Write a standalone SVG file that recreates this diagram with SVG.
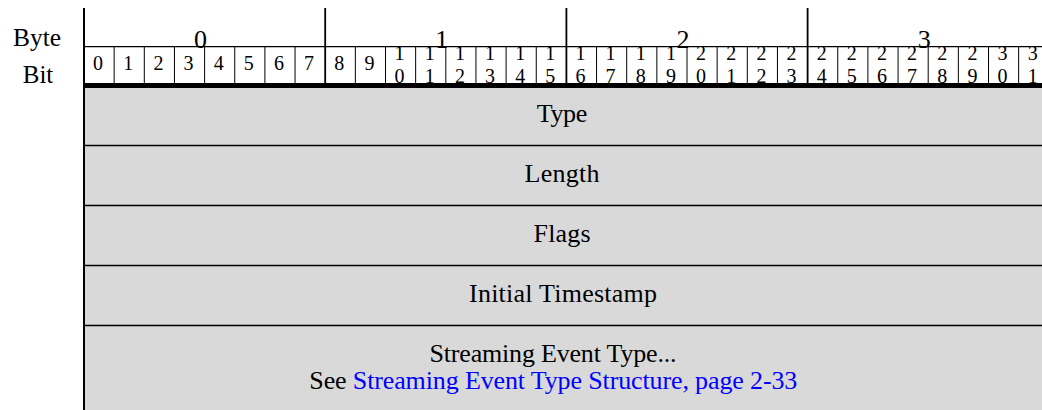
<svg xmlns="http://www.w3.org/2000/svg" width="1042" height="410" viewBox="0 0 1042 410">
<style>
text{font-family:"Liberation Serif","Times New Roman","DejaVu Serif",serif;fill:#000}
.lbl{font-size:25px;text-anchor:middle}
.byte{font-size:26px;text-anchor:middle}
.bit{font-size:20px;text-anchor:middle}
.row{font-size:26px;text-anchor:middle}
.link{fill:#0000ff}
.ln{stroke:#000;stroke-width:1.3;fill:none}
.bl{stroke:#000;stroke-width:1;fill:none}
.bb{stroke:#000;stroke-width:1.8;fill:none}
</style>
<rect width="1042" height="410" fill="#fff"/>
<g id="labels">
<text class="lbl" x="37" y="46" textLength="48" lengthAdjust="spacingAndGlyphs">Byte</text>
<text class="lbl" x="38" y="83">Bit</text>
</g>
<g id="fields">
<rect x="84" y="88" width="958" height="322" fill="#d9d9d9"/>
<g id="row-type"><text class="row" x="562" y="122" textLength="50.6">Type</text></g>
<g id="row-length"><text class="row" x="562" y="182" textLength="75">Length</text></g>
<g id="row-flags"><text class="row" x="562" y="242" textLength="57">Flags</text></g>
<g id="row-timestamp"><text class="row" x="563" y="302" textLength="188">Initial Timestamp</text></g>
<g id="row-streaming">
<text class="row" x="553" y="361.5" textLength="247">Streaming Event Type...</text>
<text class="row" x="553.3" y="388.5" textLength="488">See <tspan class="link">Streaming Event Type Structure, page 2-33</tspan></text>
</g>
<path class="ln" d="M84 145.5H1042M84 205.5H1042M84 265.5H1042M84 325.5H1042"/>
</g>
<g id="header">
<text class="byte" x="200.6" y="47.5">0</text>
<text class="byte" x="441.8" y="47.5">1</text>
<text class="byte" x="683" y="47.5">2</text>
<text class="byte" x="924.2" y="47.5">3</text>
<g id="bits">
<text class="bit" x="98" y="70">0</text>
<text class="bit" x="128.2" y="70">1</text>
<text class="bit" x="158.4" y="70">2</text>
<text class="bit" x="188.5" y="70">3</text>
<text class="bit" x="218.7" y="70">4</text>
<text class="bit" x="248.8" y="70">5</text>
<text class="bit" x="279" y="70">6</text>
<text class="bit" x="309.1" y="70">7</text>
<text class="bit" x="339.3" y="70">8</text>
<text class="bit" x="369.4" y="70">9</text>
<text class="bit"><tspan x="399.6" y="60">1</tspan><tspan x="399.6" y="82.7">0</tspan></text>
<text class="bit"><tspan x="429.7" y="60">1</tspan><tspan x="429.7" y="82.7">1</tspan></text>
<text class="bit"><tspan x="459.9" y="60">1</tspan><tspan x="459.9" y="82.7">2</tspan></text>
<text class="bit"><tspan x="490" y="60">1</tspan><tspan x="490" y="82.7">3</tspan></text>
<text class="bit"><tspan x="520.2" y="60">1</tspan><tspan x="520.2" y="82.7">4</tspan></text>
<text class="bit"><tspan x="550.3" y="60">1</tspan><tspan x="550.3" y="82.7">5</tspan></text>
<text class="bit"><tspan x="580.5" y="60">1</tspan><tspan x="580.5" y="82.7">6</tspan></text>
<text class="bit"><tspan x="610.6" y="60">1</tspan><tspan x="610.6" y="82.7">7</tspan></text>
<text class="bit"><tspan x="640.8" y="60">1</tspan><tspan x="640.8" y="82.7">8</tspan></text>
<text class="bit"><tspan x="670.9" y="60">1</tspan><tspan x="670.9" y="82.7">9</tspan></text>
<text class="bit"><tspan x="701.1" y="60">2</tspan><tspan x="701.1" y="82.7">0</tspan></text>
<text class="bit"><tspan x="731.2" y="60">2</tspan><tspan x="731.2" y="82.7">1</tspan></text>
<text class="bit"><tspan x="761.4" y="60">2</tspan><tspan x="761.4" y="82.7">2</tspan></text>
<text class="bit"><tspan x="791.5" y="60">2</tspan><tspan x="791.5" y="82.7">3</tspan></text>
<text class="bit"><tspan x="821.7" y="60">2</tspan><tspan x="821.7" y="82.7">4</tspan></text>
<text class="bit"><tspan x="851.8" y="60">2</tspan><tspan x="851.8" y="82.7">5</tspan></text>
<text class="bit"><tspan x="882" y="60">2</tspan><tspan x="882" y="82.7">6</tspan></text>
<text class="bit"><tspan x="912.1" y="60">2</tspan><tspan x="912.1" y="82.7">7</tspan></text>
<text class="bit"><tspan x="942.3" y="60">2</tspan><tspan x="942.3" y="82.7">8</tspan></text>
<text class="bit"><tspan x="972.4" y="60">2</tspan><tspan x="972.4" y="82.7">9</tspan></text>
<text class="bit"><tspan x="1002.6" y="60">3</tspan><tspan x="1002.6" y="82.7">0</tspan></text>
<text class="bit"><tspan x="1032.7" y="60">3</tspan><tspan x="1032.7" y="82.7">1</tspan></text>
</g>
<path class="bl" d="M114.15 46.7V83M144.3 46.7V83M174.45 46.7V83M204.6 46.7V83M234.75 46.7V83M264.9 46.7V83M295.05 46.7V83M355.35 46.7V83M385.5 46.7V83M415.65 46.7V83M445.8 46.7V83M475.95 46.7V83M506.1 46.7V83M536.25 46.7V83M596.55 46.7V83M626.7 46.7V83M656.85 46.7V83M687 46.7V83M717.15 46.7V83M747.3 46.7V83M777.45 46.7V83M837.75 46.7V83M867.9 46.7V83M898.05 46.7V83M928.2 46.7V83M958.35 46.7V83M988.5 46.7V83M1018.65 46.7V83"/>
<path class="ln" d="M84 46.7H1042"/>
<path class="bb" d="M325.2 8V88M566.4 8V88M807.6 8V88"/>
<rect x="84" y="83" width="958" height="5" fill="#000"/>
</g>
<path stroke="#000" stroke-width="2" d="M84 8V410"/>
</svg>
